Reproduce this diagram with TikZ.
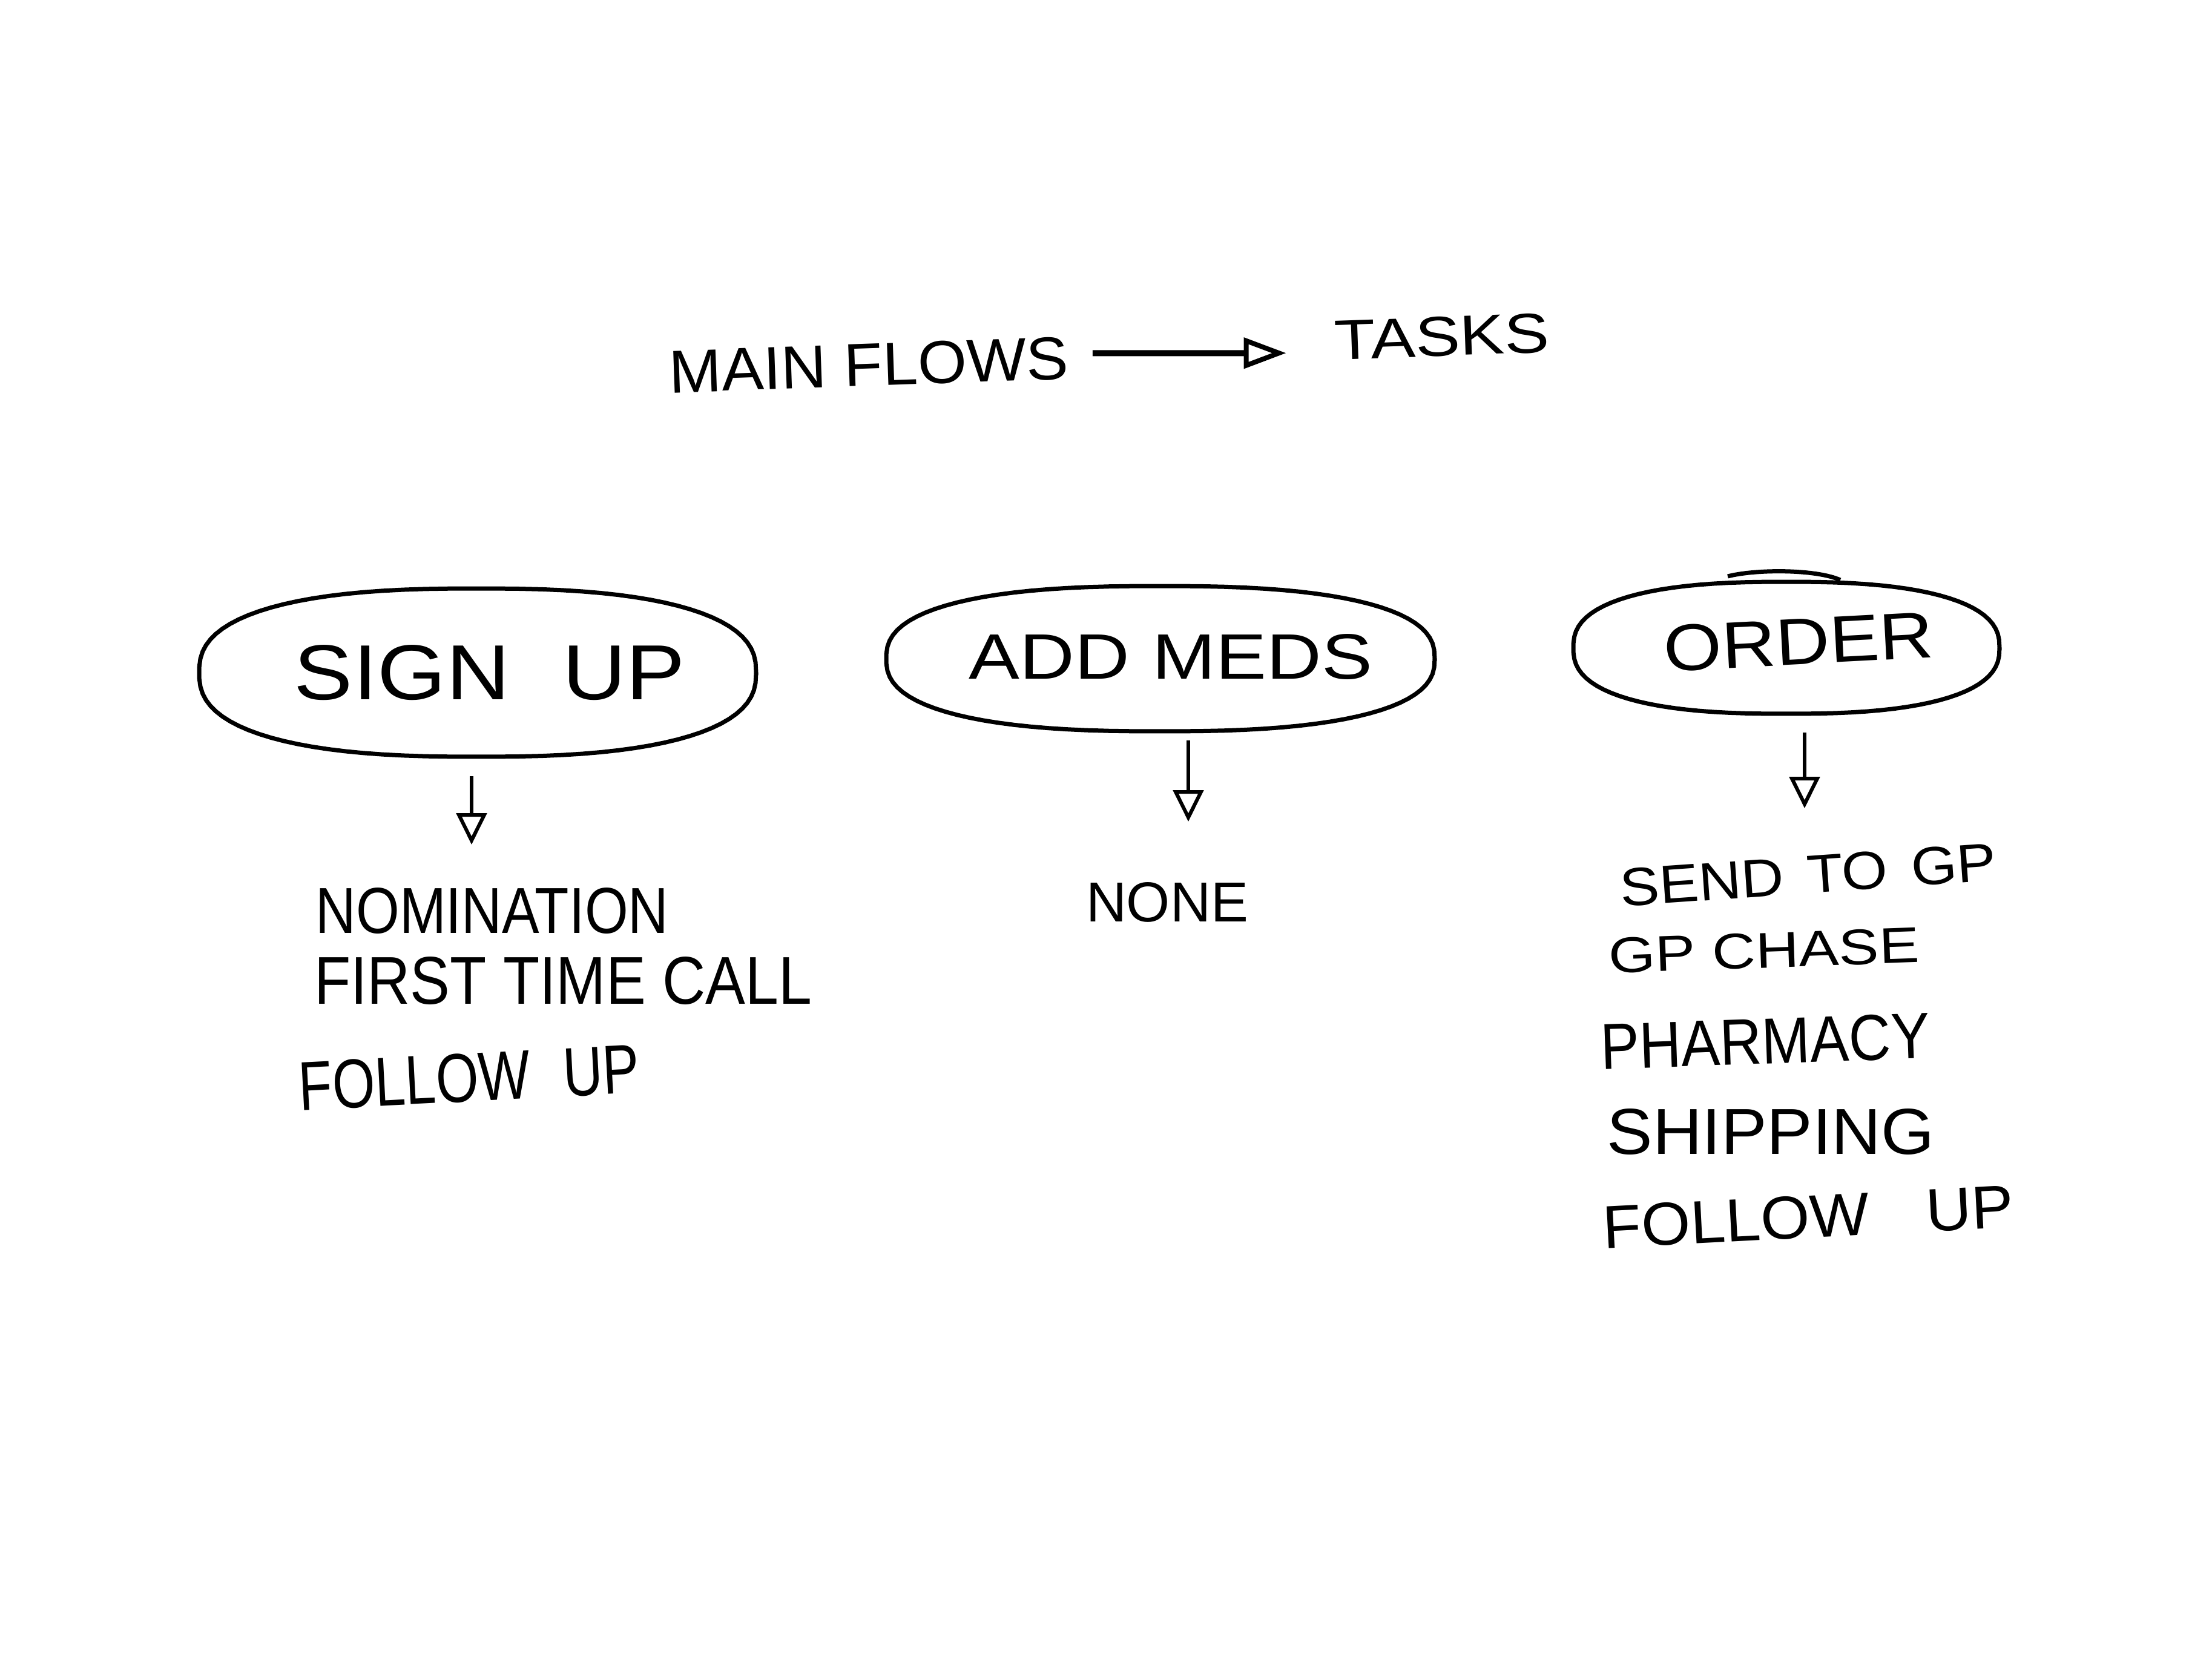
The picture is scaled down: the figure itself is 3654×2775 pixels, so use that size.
\documentclass[tikz,border=0pt]{standalone}
\usepackage{fontspec}
\setmainfont{Liberation Sans}
\usepackage{graphicx}
\usetikzlibrary{arrows.meta,calc}
\newcommand{\hw}[3]{\resizebox{#1pt}{#2pt}{#3}}
% superellipse blob: center x, center y, half width, half height
\newcommand{\blob}[4]{\draw[line width=0.7pt] plot[domain=0:360,samples=90]
  ({#1+#3*sign(cos(\x))*abs(cos(\x))^0.8},{#2+#4*sign(sin(\x))*abs(sin(\x))^0.8}) -- cycle;}
\begin{document}
\begin{tikzpicture}[x=0.1pt,y=-0.1pt,
  txt/.style={inner sep=0pt,outer sep=0pt},
  arr/.style={line width=0.6pt,-{Triangle[open,length=5.2pt,width=5pt,line width=0.6pt]}},
  tarr/.style={line width=1pt,-{Triangle[open,length=7pt,width=5pt,line width=0.8pt]}}]
\useasboundingbox[fill=white] (0,0) rectangle (3654,2775);
% title
\node[txt,rotate=2] (main) at (1435,603) {\hw{66}{7.0}{MAIN FLOWS}};
\node[txt,rotate=2] (tasks) at (2382,556) {\hw{35.5}{6.5}{TASKS}};
\draw[tarr] ([shift={(40,-8)}]main.east) -- ([shift={(-80,21)}]tasks.west);
% flows
\blob{789}{1111}{460}{139}
\node[txt] (sign) at (809,1111) {\hw{64.6}{9.0}{SIGN\hspace{0.6em}UP}};
\blob{1917}{1088}{453}{120}
\node[txt] (meds) at (1934,1085) {\hw{66.6}{7.4}{ADD\hspace{0.3em}MEDS}};
\blob{2951}{1070}{352}{109}
\node[txt,rotate=3] (order) at (2971,1060) {\hw{44.5}{7.6}{ORDER}};
\draw[line width=0.7pt] (2854,952) .. controls (2900,940) and (3000,940) .. (3040,958);
% arrows
\coordinate (s1) at (779,1282); \coordinate (e1) at (779,1395);
\coordinate (s2) at (1963,1223); \coordinate (e2) at (1963,1357);
\coordinate (s3) at (2981,1210); \coordinate (e3) at (2981,1335);
\draw[arr] (s1) -- (e1);
\draw[arr] (s2) -- (e2);
\draw[arr] (s3) -- (e3);
% sign up tasks
\node[txt] (nom) at (813,1505) {\hw{58.3}{7.5}{NOMINATION}};
\node[txt] (ftc) at (930,1620) {\hw{82.2}{7.8}{FIRST TIME CALL}};
\node[txt,rotate=3] (fu1) at (775,1780) {\hw{56.3}{8.0}{FOLLOW\hspace{0.6em}UP}};
% add meds tasks
\node[txt] (none) at (1928,1490) {\hw{26.8}{6.5}{NONE}};
% order tasks
\node[txt,rotate=4] (send) at (2987,1445) {\hw{62.3}{6.2}{SEND\hspace{0.4em}TO\hspace{0.4em}GP}};
\node[txt,rotate=2] (chase) at (2914,1570) {\hw{51.3}{5.8}{GP CHASE}};
\node[txt,rotate=2] (pharm) at (2916,1720) {\hw{54.4}{7.5}{PHARMACY}};
\node[txt] (ship) at (2925,1870) {\hw{54.1}{7.5}{SHIPPING}};
\node[txt,rotate=3] (fu2) at (2987,2010) {\hw{67.9}{7.0}{FOLLOW\hspace{0.9em}UP}};
\end{tikzpicture}
\end{document}
